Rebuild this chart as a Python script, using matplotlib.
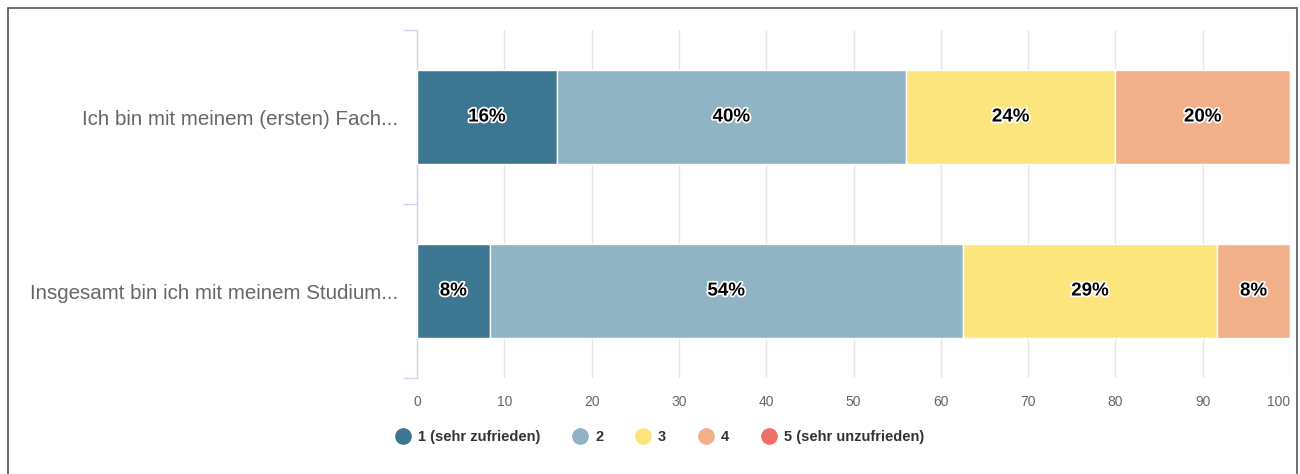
import matplotlib
matplotlib.use("Agg")
import matplotlib.pyplot as plt
import matplotlib.patheffects as pe
from matplotlib.lines import Line2D
import numpy as np

plt.rcParams['font.family'] = ['Liberation Sans', 'DejaVu Sans']

categories = ["Ich bin mit meinem (ersten) Fach...",
              "Insgesamt bin ich mit meinem Studium..."]
series_names = ["1 (sehr zufrieden)", "2", "3", "4", "5 (sehr unzufrieden)"]
values_1 = [16.0, 8.33]
values_2 = [40.0, 54.17]
values_3 = [24.0, 29.17]
values_4 = [20.0, 8.33]
values_5 = [0.0, 0.0]
colors = ["#3d7690", "#91b4c4", "#fde57e", "#f1b08a", "#ef7066"]
xticks = [0, 10, 20, 30, 40, 50, 60, 70, 80, 90, 100]

series = [values_1, values_2, values_3, values_4, values_5]

fig = plt.figure(figsize=(13, 4.74), dpi=100)
ax = fig.add_axes([0.3208, 0.2025, 0.6715, 0.7342])

y = np.arange(len(categories))
left = np.zeros(len(categories))
for vals, col in zip(series, colors):
    vals = np.array(vals)
    ax.barh(y, vals, left=left, height=0.535, color=col,
            edgecolor="white", linewidth=1, zorder=3)
    for yi, v, l in zip(y, vals, left):
        if v > 0:
            ax.text(l + v / 2, yi, f"{round(v):d}%", ha="center", va="center",
                    fontsize=13.5, fontweight="bold", color="black", zorder=4,
                    path_effects=[pe.withStroke(linewidth=2.5, foreground="white")])
    left = left + vals

ax.set_xlim(0, 100)
ax.set_ylim(len(categories) - 0.5, -0.5)
ax.set_xticks(xticks)
ax.set_xticklabels([str(t) for t in xticks], color="#666666", fontsize=10)
ax.tick_params(axis="x", length=0, pad=12)
ax.get_xticklabels()[-1].set_horizontalalignment("right")
ax.set_yticks(y)
ax.set_yticklabels(categories, color="#666666", fontsize=14.8)
ax.tick_params(axis="y", length=0, pad=13.5)
# minor ticks at category boundaries
ax.set_yticks(np.arange(-0.5, len(categories), 1.0), minor=True)
ax.tick_params(axis="y", which="minor", length=10, color="#ccd6eb", width=1)

ax.grid(axis="x", color="#e6e6e6", linewidth=1, zorder=0)
for s in ["top", "right", "bottom"]:
    ax.spines[s].set_visible(False)
ax.spines["left"].set_color("#ccd6eb")
ax.spines["left"].set_linewidth(1)

handles = [Line2D([0], [0], marker="o", linestyle="none", markersize=11,
                  markerfacecolor=c, markeredgecolor=c) for c in colors]
leg = fig.legend(handles, series_names, loc="center", bbox_to_anchor=(0.507, 0.078),
                 ncol=5, frameon=False, handlelength=1.2, handletextpad=0.45,
                 columnspacing=2.1, prop={"weight": "bold", "size": 10.5})
for t in leg.get_texts():
    t.set_color("#333333")

# outer border
border = plt.Rectangle((0.0062, -0.01), 0.9915, 0.9935, transform=fig.transFigure,
                       fill=False, edgecolor="#555555", linewidth=1.2)
fig.add_artist(border)

fig.savefig("out.png", dpi=100)
